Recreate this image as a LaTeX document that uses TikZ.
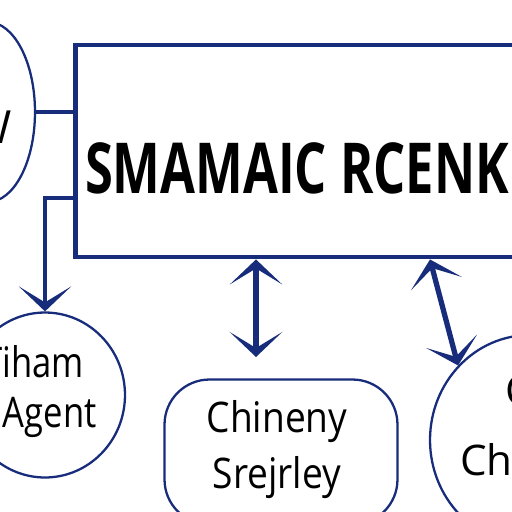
\documentclass[tikz,border=0pt]{standalone}
\usepackage{fontspec}
\setmainfont{Open Sans}
\usepackage{graphicx}
\usetikzlibrary{arrows.meta,shapes.geometric}
\definecolor{linkblue}{RGB}{24,44,124}

\begin{document}
\begin{tikzpicture}[x=0.02cm,y=-0.02cm,
  link/.style={linkblue,line width=2.8pt},
  tip/.style={-{Stealth[length=0.5cm,width=1.05cm,inset=0.32cm]}},
  dbl/.style={linkblue,line width=3pt,{Stealth[length=0.5cm,width=1.05cm,inset=0.32cm]}-{Stealth[length=0.5cm,width=1.05cm,inset=0.32cm]}},
  bubble/.style={draw=linkblue,line width=1.3pt,ellipse,inner sep=0pt},
  label/.style={text=black,inner sep=0pt,font=\fontsize{24}{28}\selectfont}]
\useasboundingbox (0,0) rectangle (512,512);
\clip (0,0) rectangle (512,512);
\fill[white] (0,0) rectangle (512,512);

% main box
\node[draw=linkblue,line width=2.8pt,minimum width=13cm,minimum height=4.24cm] (main) at (400,151) {};
\node[anchor=base,inner sep=0pt,font=\fontsize{40}{40}\selectfont\bfseries] (title) at (297,193) {\scalebox{0.72}[1]{SMAMAIC RCENK}};

% top left bubble
\node[bubble,minimum width=1.88cm,minimum height=3.6cm] (lefttop) at (-12,112) {};
\node[label,anchor=base east,font=\fontsize{26}{28}\selectfont] (lefttext) at (12,143) {W};
\draw[link] (lefttop.east) -- (lefttop.east -| main.west);

% bottom left bubble
\node[bubble,minimum width=3.2cm,minimum height=3.3cm] (agent) at (45,395) {};
\node[label,anchor=base east] (agenta) at (84,377) {\scalebox{0.82}[1]{Tiham}};
\node[label,anchor=base east] (agentb) at (97,427) {\scalebox{0.82}[1]{Agent}};
\coordinate (bend) at (45,198);
\draw[link,tip] (bend -| main.west) -- (bend) -- (agent.north);

% bottom middle
\node[draw=linkblue,line width=1.3pt,rounded corners=0.9cm,minimum width=4.66cm,minimum height=2.9cm] (story) at (281,452) {};
\node[label,anchor=base] (storya) at (277,432) {\scalebox{0.88}[1]{Chineny}};
\node[label,anchor=base] (storyb) at (277,488) {\scalebox{0.88}[1]{Srejrley}};
\coordinate (m) at (256,357);
\draw[dbl] (main.south -| m) -- (m);

% bottom right bubble
\node[bubble,minimum width=4cm,minimum height=4.2cm] (rightc) at (530,440) {};
\node[label,anchor=base west] (righta) at (505,405) {C};
\node[label,anchor=base west] (rightb) at (460,475) {Cha};
\coordinate (r) at (430,0);
\draw[dbl] (main.south -| r) -- (rightc.134);
\end{tikzpicture}
\end{document}
